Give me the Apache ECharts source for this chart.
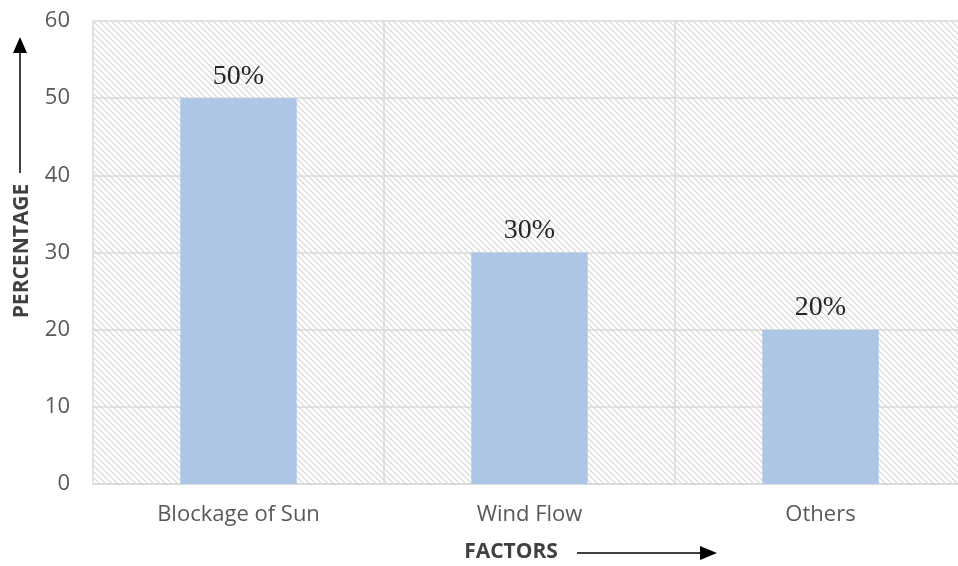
<!DOCTYPE html>
<html>
<head>
<meta charset="utf-8">
<script src="https://cdn.jsdelivr.net/npm/echarts@6/dist/echarts.min.js"></script>
<style>
  html, body { margin: 0; padding: 0; background: #fff; overflow: hidden; }
  /* the plot runs slightly past the right edge of the window */
  #chart { width: 980px; height: 566px; }
</style>
</head>
<body>
<div id="chart"></div>
<script>
// Share of each factor, in percent
const categories = ['Blockage of Sun', 'Wind Flow', 'Others'];
const percentages = [50, 30, 20];
const yTicks = { min: 0, max: 60, interval: 10 };

// Diagonal hatch tile for the plot background
function hatchTile() {
  const c = document.createElement('canvas');
  const s = 6;
  c.width = s; c.height = s;
  const g = c.getContext('2d');
  g.fillStyle = '#ffffff';
  g.fillRect(0, 0, s, s);
  g.strokeStyle = '#d6d6d6';
  g.lineWidth = 1.2;
  g.beginPath();
  g.moveTo(-1, -1); g.lineTo(s + 1, s + 1);
  g.moveTo(-1, s - 1); g.lineTo(1, s + 1);
  g.moveTo(s - 1, -1); g.lineTo(s + 1, 1);
  g.stroke();
  return c;
}

const chart = echarts.init(document.getElementById('chart'));
const gridColor = '#d9d9d9';
const labelFont = '"Open Sans", "Liberation Sans", sans-serif';

chart.setOption({
  animation: false,
  grid: {
    left: 93, top: 21, width: 873, height: 463,
    show: true,
    borderWidth: 0,
    backgroundColor: { image: hatchTile(), repeat: 'repeat' }
  },
  xAxis: {
    type: 'category',
    data: categories,
    axisLine: { lineStyle: { color: gridColor, width: 1.5 } },
    axisTick: { show: false },
    splitLine: { show: true, lineStyle: { color: gridColor, width: 1.5 } },
    axisLabel: { color: '#595959', fontSize: 22, fontFamily: labelFont, margin: 20 }
  },
  yAxis: {
    type: 'value',
    min: yTicks.min, max: yTicks.max, interval: yTicks.interval,
    axisLine: { show: false },
    axisTick: { show: false },
    splitLine: { lineStyle: { color: gridColor, width: 1.5 } },
    axisLabel: { color: '#595959', fontSize: 22, fontFamily: labelFont, margin: 23 }
  },
  series: [{
    type: 'bar',
    data: percentages,
    barWidth: '40%',
    itemStyle: { color: '#adc6e5' },
    label: {
      show: true,
      position: 'top',
      distance: 8,
      formatter: p => p.value + '%',
      color: '#262626',
      fontSize: 28,
      fontFamily: '"Liberation Serif", "Times New Roman", serif'
    }
  }],
  graphic: [
    // Vertical axis title with upward arrow
    {
      type: 'text', x: 22, y: 251, rotation: Math.PI / 2, originX: 0, originY: 0,
      style: {
        text: 'PERCENTAGE', fill: '#404040', font: 'bold 21px ' + labelFont,
        align: 'center', verticalAlign: 'middle'
      }
    },
    { type: 'line', shape: { x1: 20, y1: 173, x2: 20, y2: 50 }, style: { stroke: '#000', lineWidth: 1.5 } },
    { type: 'polygon', shape: { points: [[13, 53], [27, 53], [20, 37]] }, style: { fill: '#000' } },
    // Horizontal axis title with rightward arrow
    {
      type: 'text', x: 511, y: 552,
      style: {
        text: 'FACTORS', fill: '#404040', font: 'bold 21px ' + labelFont,
        align: 'center', verticalAlign: 'middle'
      }
    },
    { type: 'line', shape: { x1: 577, y1: 553, x2: 705, y2: 553 }, style: { stroke: '#000', lineWidth: 1.5 } },
    { type: 'polygon', shape: { points: [[700, 546], [700, 560], [717, 553]] }, style: { fill: '#000' } }
  ]
});
</script>
</body>
</html>
